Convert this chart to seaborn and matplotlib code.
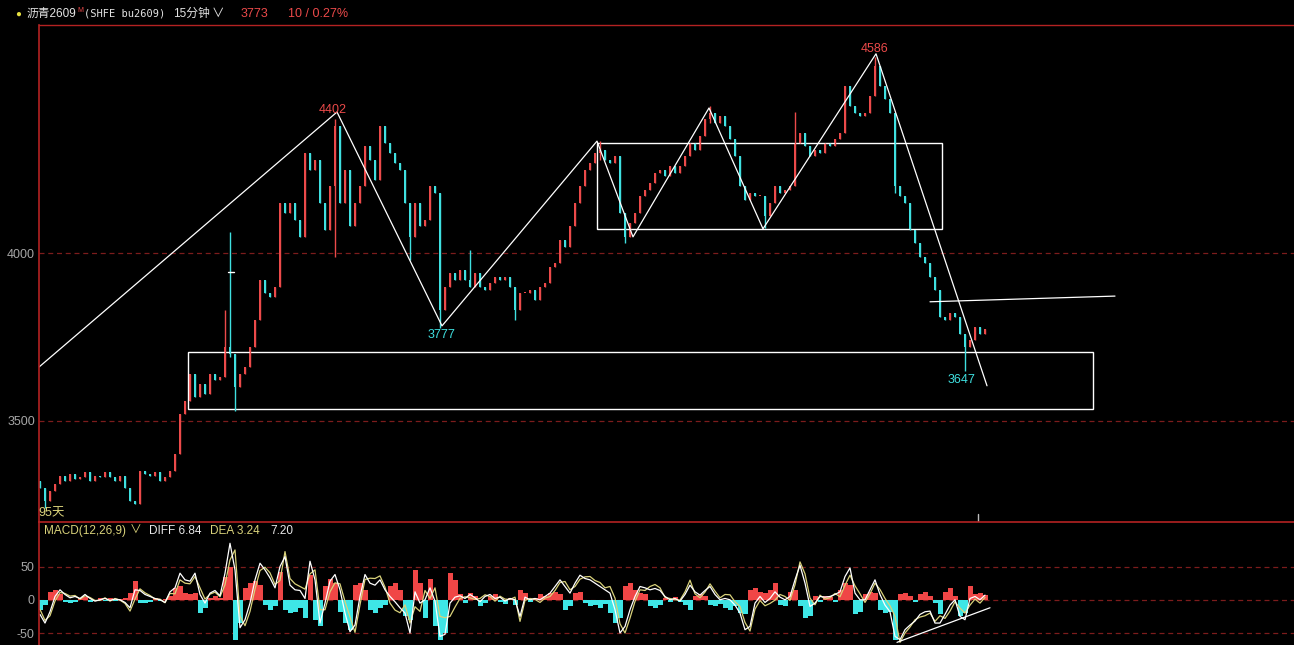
import matplotlib
matplotlib.use("Agg")
import matplotlib.pyplot as plt
import numpy as np
import pandas as pd
import seaborn as sns

# 15分钟K线收盘价 (每根取样约5像素)
closes = [
    3300, 3260, 3290, 3310, 3335, 3320, 3340, 3325, 3330, 3345,
    3320, 3335, 3330, 3345, 3330, 3320, 3335, 3300, 3260, 3250,
    3350, 3340, 3335, 3345, 3320, 3330, 3350, 3400, 3520, 3560,
    3640, 3570, 3610, 3580, 3640, 3620, 3630, 3720, 3700, 3600,
    3640, 3660, 3720, 3800, 3920, 3880, 3870, 3900, 4150, 4120,
    4150, 4100, 4050, 4300, 4250, 4280, 4150, 4070, 4200, 4380,
    4150, 4250, 4080, 4150, 4200, 4320, 4280, 4220, 4380, 4330,
    4300, 4270, 4250, 4150, 4050, 4150, 4080, 4100, 4200, 4180,
    3830, 3900, 3940, 3920, 3950, 3920, 3900, 3940, 3900, 3890,
    3910, 3930, 3920, 3930, 3900, 3830, 3880, 3880, 3890, 3860,
    3900, 3910, 3960, 3970, 4040, 4020, 4080, 4150, 4200, 4250,
    4270, 4300, 4310, 4280, 4270, 4290, 4120, 4050, 4090, 4120,
    4170, 4190, 4210, 4240, 4250, 4230, 4260, 4240, 4260, 4290,
    4330, 4310, 4350, 4400, 4420, 4390, 4410, 4380, 4340, 4290,
    4200, 4160, 4180, 4170, 4170, 4110, 4150, 4200, 4180, 4190,
    4200, 4330, 4360, 4320, 4290, 4310, 4300, 4330, 4320, 4340,
    4360, 4500, 4440, 4420, 4410, 4420, 4470, 4560, 4500, 4460,
    4420, 4200, 4170, 4150, 4070, 4030, 3990, 3970, 3930, 3890,
    3810, 3800, 3820, 3810, 3760, 3720, 3740, 3780, 3760, 3773,
]
first_open = 3320

# 明显的上下影线
spike_idx = [1, 37, 38, 39, 59, 74, 80, 86, 95, 112, 117, 134, 145, 151, 167, 171, 185]
spike_high = [3300, 3830, 4063, 3700, 4402, 4150, 4180, 4010, 3900, 4335, 4120, 4440, 4170, 4422, 4586, 4420, 3760]
spike_low = [3240, 3690, 3690, 3530, 3990, 3980, 3777, 3900, 3800, 4280, 4030, 4390, 4075, 4200, 4470, 4180, 3647]

# MACD(12,26,9): DIFF 与 柱状值
diff_vals = [
    -22, -35, -18, 5, 15, 8, 3, 5, 2, 8,
    2, -2, 0, 2, -1, 1, 0, -4, -12, 15,
    14, 8, 5, 2, 0, -4, 12, 18, 40, 30,
    28, 40, 8, -5, 10, 14, 6, 40, 85, 45,
    -42, -30, -5, 30, 55, 45, 33, 18, 50, 65,
    22, 15, 14, 2, 58, 30, -35, -5, 28, 38,
    15, -20, -48, -38, 5, 38, 25, 22, 30, 15,
    5, -3, -12, -20, -50, 12, -5, 0, 18, -2,
    -55, -52, -5, 4, 6, 2, 8, 3, -3, 5,
    8, 2, 4, -2, 2, 0, -25, 4, 0, 2,
    0, 5, 10, 20, 30, 20, 10, 25, 37, 32,
    30, 25, 20, 15, 10, -15, -50, -40, -15, 5,
    20, 18, 15, 17, 14, 5, 0, 2, -2, 8,
    22, 12, 7, 14, 20, 8, 0, 2, 0, -8,
    -20, -45, -40, -5, 5, -4, 2, 12, 4, 0,
    5, 30, 52, 25, -10, -5, 5, 4, 5, 8,
    12, 35, 48, 10, 0, 0, 15, 30, 8, -8,
    -18, -55, -60, -45, -38, -32, -22, -18, -17, -35,
    -35, -22, -8, 0, -25, -30, 2, 5, 0, 7,
]
macd_hist = [
    -15, -8, 12, 14, 8, -3, -5, -3, 2, 4,
    -3, -2, 2, -2, 2, -2, 1, 3, 10, 28,
    -5, -5, -3, 2, -2, 1, 5, 18, 20, 10,
    8, 10, -20, -12, 3, 5, 3, 35, 50, -60,
    -35, 18, 25, 28, 22, -8, -15, -10, 42, -15,
    -20, -18, -12, -28, 38, -30, -40, 20, 32, 25,
    -18, -35, -45, 22, 25, 15, -15, -20, -12, -8,
    20, 25, 15, -25, -30, 45, 25, -28, 32, -40,
    -60, -50, 40, 30, 8, -5, 10, 5, -10, -5,
    6, 8, -3, -6, 3, -8, 15, 10, -4, 3,
    8, 5, 10, 12, 8, -15, -10, 10, 12, -5,
    -10, -8, -12, -6, -20, -35, -28, 20, 25, 15,
    10, 8, -10, -12, -8, 3, -4, 4, -3, -8,
    -15, 6, 8, 5, -8, -10, -6, -12, -15, -10,
    -20, -22, 14, 18, 12, 10, 15, 25, -8, -10,
    12, 15, -10, -28, -25, 5, -4, 6, 4, -3,
    15, 26, 22, -22, -18, 8, 12, 10, -15, -20,
    -18, -60, 8, 10, 6, -4, 8, 12, 6, -5,
    -22, 12, 18, 6, -25, -20, 20, 8, 10, 7,
]

# 画线: 折线转折点、矩形区间、趋势线
pivot_idx = [-0.2, 59.4, 80.4, 111.4, 118.6, 133.8, 144.6, 167.2, 189.4]
pivot_price = [3660, 4422, 3783, 4335, 4049, 4434, 4073, 4596, 3604]
box_upper = [111.4, 180.4, 4073, 4330]
box_lower = [29.6, 210.6, 3535, 3705]
resist_idx = [178, 215]
resist_price = [3855, 3872]
macd_trend_idx = [171.4, 190]
macd_trend_val = [-64, -12]

peak_labels = ["4402", "3777", "4586", "3647"]
peak_idx = [58.6, 80.4, 167.0, 184.4]
peak_price = [4428, 3756, 4609, 3621]

RED = "#ec4a4a"
CYAN = "#3fe0e0"
GRID = "#7c1c1c"
AXRED = "#b42222"
YEL = "#d9d27a"

sns.set_theme(style="dark", rc={"axes.facecolor": "black", "figure.facecolor": "black"})
plt.rcParams["font.family"] = ["Liberation Sans", "Noto Sans CJK SC", "DejaVu Sans"]

W, H = 1294, 645
fig = plt.figure(figsize=(W / 100, H / 100), dpi=100, facecolor="black")
ax = fig.add_axes([39 / W, 123 / H, 1255 / W, 497 / H])
ax2 = fig.add_axes([39 / W, 0, 1255 / W, 123 / H], sharex=ax)

c = np.array(closes, dtype=float)
n = len(c)
idx = np.arange(n)
o = np.r_[first_open, c[:-1]]
hi = np.maximum(o, c)
lo = np.minimum(o, c)
for i, h, l in zip(spike_idx, spike_high, spike_low):
    hi[i] = max(hi[i], h)
    lo[i] = min(lo[i], l)

df = pd.DataFrame({"idx": idx, "open": o, "close": c, "high": hi, "low": lo,
                   "diff": diff_vals, "hist": macd_hist})
df["dea"] = df["diff"] - df["hist"] / 2
cols = np.where(df["close"] >= df["open"], RED, CYAN)

# K线
ax.vlines(df["idx"], df["low"], df["high"], colors=cols, lw=1.0)
body = np.maximum((df["close"] - df["open"]).abs(), 4)
ax.bar(df["idx"], body, bottom=np.minimum(df["open"], df["close"]), width=0.5,
       color=cols, linewidth=0)

# 网格
for lv in [4000, 3500]:
    ax.axhline(lv, color=GRID, lw=0.9, ls=(0, (4, 3)), zorder=0)

# 折线
piv = pd.DataFrame({"i": pivot_idx, "p": pivot_price})
sns.lineplot(data=piv, x="i", y="p", ax=ax, sort=False, color="white", lw=0.9)
for b in [box_upper, box_lower]:
    x0, x1, y0, y1 = b
    ax.add_patch(plt.Rectangle((x0, y0), x1 - x0, y1 - y0, fill=False,
                               ec="white", lw=1.0))
ax.plot(resist_idx, resist_price, color="white", lw=0.9)
ax.plot([37.6, 38.8], [3943, 3943], color="white", lw=1.0)
ax.axvline(187.6, ymin=0, ymax=8 / 497, color="#bbbbbb", lw=1.0)

for t, xi, pv in zip(peak_labels, peak_idx, peak_price):
    colr = RED if t in ("4402", "4586") else CYAN
    ax.text(xi, pv, t, color=colr, fontsize=9, ha="center", va="center")

ax.set_xlim(-0.2, 250.8)
ax.set_ylim(3197, 4682)
ax.set_yticks([3500, 4000])
ax.set_yticklabels(["3500", "4000"])

# MACD
ax2.bar(df["idx"], df["hist"], width=1.0,
        color=np.where(df["hist"] >= 0, "#f04646", "#3ee6e6"), linewidth=0)
for lv in [50, 0, -50]:
    ax2.axhline(lv, color=GRID, lw=0.9, ls=(0, (4, 3)), zorder=0)
sns.lineplot(data=df, x="idx", y="dea", ax=ax2, color=YEL, lw=0.9)
sns.lineplot(data=df, x="idx", y="diff", ax=ax2, color="white", lw=0.9)
ax2.plot(macd_trend_idx, macd_trend_val, color="white", lw=0.9)
ax2.set_ylim(-68, 117)
ax2.set_yticks([-50, 0, 50])
ax2.set_yticklabels(["-50", "0", "50"])

for a in (ax, ax2):
    a.set_xlabel("")
    a.set_ylabel("")
    a.grid(False)
    a.tick_params(axis="y", length=0, pad=3, labelcolor="#a6a6a6", labelsize=9)
    a.tick_params(axis="x", bottom=False, labelbottom=False)
    for s in ["right", "bottom"]:
        a.spines[s].set_visible(False)
    a.spines["left"].set_color(AXRED)
    a.spines["left"].set_linewidth(1.2)
ax.spines["top"].set_color(AXRED)
ax.spines["top"].set_linewidth(1.0)
ax2.spines["top"].set_color(AXRED)
ax2.spines["top"].set_linewidth(1.2)

# 标题栏文字
def ftext(px, py, s, **kw):
    fig.text(px / W, 1 - py / H, s, va="center", ha="left", **kw)

ftext(15, 14, "●", color="#e6e040", fontsize=7)
ftext(27, 14, "沥青2609", color="#e4e4e4", fontsize=8.5)
ftext(77, 10, "M", color=RED, fontsize=5)
ftext(84, 14, "(SHFE bu2609)", color="#e4e4e4", fontsize=7.5, family="DejaVu Sans Mono")
ftext(173, 14, "15分钟", color="#e4e4e4", fontsize=8.5)
ftext(212, 14, "∨", color="#e4e4e4", fontsize=9)
ftext(241, 14, "3773", color=RED, fontsize=9)
ftext(288, 14, "10 / 0.27%", color=RED, fontsize=9)
ftext(38, 513, "95天", color=YEL, fontsize=9)
ftext(44, 531, "MACD(12,26,9)", color=YEL, fontsize=8.5)
ftext(130, 531, "∨", color=YEL, fontsize=8.5)
ftext(149, 531, "DIFF 6.84", color="#e8e8e8", fontsize=8.5)
ftext(210, 531, "DEA 3.24", color=YEL, fontsize=8.5)
ftext(270, 531, "7.20", color="#e8e8e8", fontsize=8.5)

fig.savefig("out.png", dpi=100, facecolor="black")
